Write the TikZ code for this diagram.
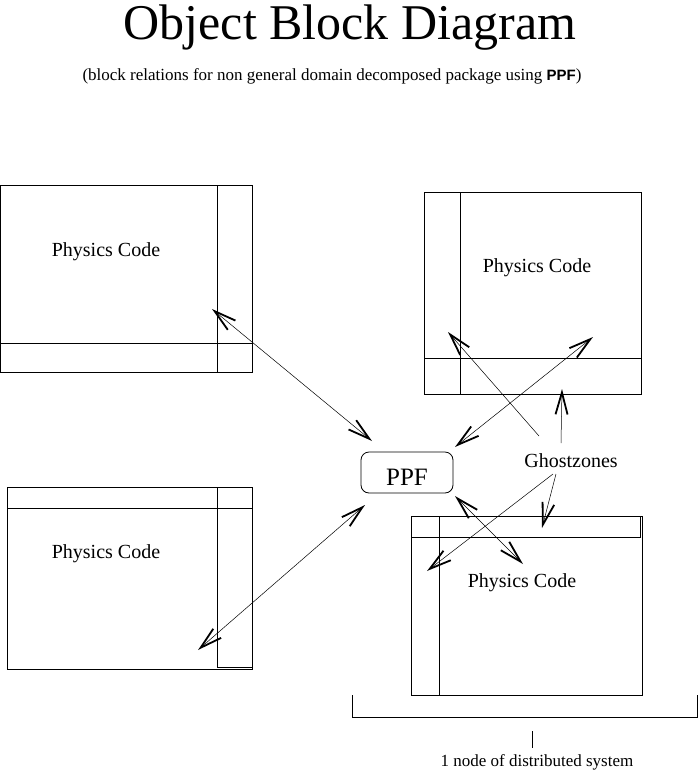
\documentclass[tikz,border=0pt]{standalone}
\usepackage{fontspec}
\setmainfont{Liberation Serif}
\setsansfont{Liberation Sans}
\usetikzlibrary{arrows.meta,positioning}

\begin{document}
\begin{tikzpicture}[x=1pt,y=-1pt,line width=0.9pt,
  blk/.style={draw,inner sep=0pt},
  code/.style={anchor=base,font=\fontsize{20}{24}\selectfont},
  ppfbox/.style={draw,line width=0.8pt,rounded corners=8pt,minimum width=92pt,
                 minimum height=41pt,text height=26pt,font=\fontsize{25}{30}\selectfont},
  lbl/.style={anchor=base,font=\fontsize{17}{20}\selectfont},
  arr/.style={{Straight Barb[length=22pt,width=12pt,line width=1.8pt]}-{Straight Barb[length=22pt,width=12pt,line width=1.8pt]},line width=0.5pt},
  g/.style={-{Straight Barb[length=22pt,width=12pt,line width=1.8pt]},line width=0.5pt}]

\useasboundingbox (0,0) rectangle (698,772);

\node[anchor=base,font=\fontsize{50}{56}\selectfont] (title) at (350,39) {Object Block Diagram};
\node[lbl] (sub) at (332,80) {(block relations for non general domain decomposed package using {\sffamily\bfseries\fontsize{15}{18}\selectfont PPF})};

% blocks
\node[blk,minimum width=252pt,minimum height=187pt] (b1) at (126,278.5) {};
\node[blk,minimum width=217pt,minimum height=202pt] (b2) at (532.5,293) {};
\node[blk,minimum width=245pt,minimum height=182pt] (b3) at (129.5,578) {};
\node[blk,minimum width=231pt,minimum height=179pt] (b4) at (526.5,605.5) {};

% ghost strips
\draw (217,185) -- (217,372); \draw (0,343) -- (252,343);
\draw (460,192) -- (460,394); \draw (424,358) -- (641,358);
\draw (7,508) -- (252,508); \draw (217,487) -- (217,667) -- (252,667);
\draw (411,537) -- (640,537) -- (640,516); \draw (439,516) -- (439,695);

\node[code] (pc1) at (106,256) {Physics Code};
\node[code] (pc2) at (537,272) {Physics Code};
\node[code] (pc3) at (106,558) {Physics Code};
\node[code] (pc4) at (522,587) {Physics Code};

\node[ppfbox] (ppf) at (407,472.5) {PPF};
\node[code] (gz) at (571,467) {Ghostzones};

% arrow ends
\coordinate (e1) at (212,309);  \coordinate (f1) at (372,441);
\coordinate (e2) at (198,650);  \coordinate (f2) at (365,505);
\coordinate (e3) at (593,337);  \coordinate (f3) at (455,447);
\coordinate (e4) at (523,564);  \coordinate (f4) at (455,496);
\coordinate (g1) at (539,436);  \coordinate (h1) at (448,332);
\coordinate (g2) at (561,443);  \coordinate (h2) at (562,389);
\coordinate (g3) at (556,474);  \coordinate (h3) at (542,528);
\coordinate (g4) at (553,474);  \coordinate (h4) at (427,571);

\draw[arr] (e1) -- (f1); \draw[arr] (e2) -- (f2);
\draw[arr] (e3) -- (f3); \draw[arr] (e4) -- (f4);
\draw[g] (g1) -- (h1); \draw[g] (g2) -- (h2);
\draw[g] (g3) -- (h3); \draw[g] (g4) -- (h4);

% one node bracket
\draw (352,695) -- (352,717) -- (697,717) -- (697,695);
\draw (532,731) -- (532,748);
\node[lbl] (dist) at (537,766) {1 node of distributed system};
\end{tikzpicture}
\end{document}
